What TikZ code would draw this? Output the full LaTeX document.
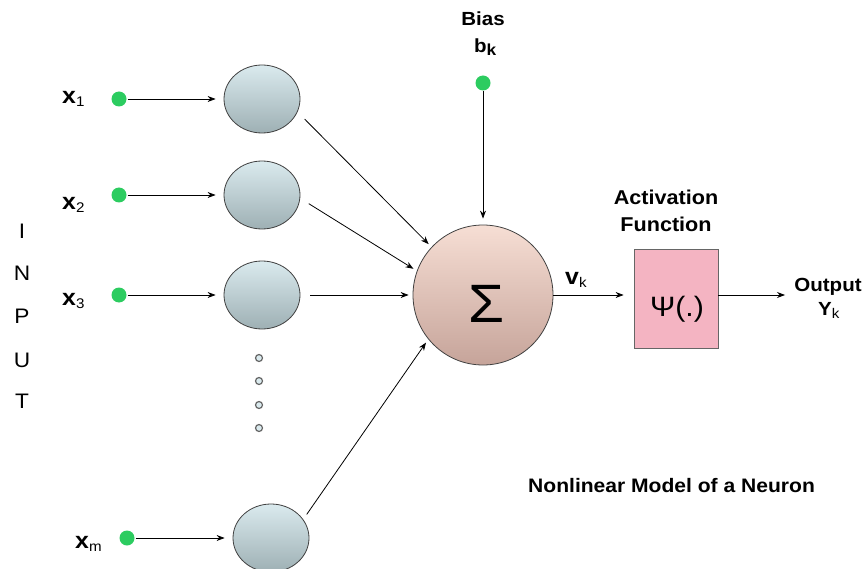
\documentclass[tikz,border=0pt]{standalone}
\usepackage{fontspec}
\setmainfont{Liberation Sans}[FakeStretch=1.08]
\setsansfont{Liberation Sans}[FakeStretch=1.08]
\usetikzlibrary{arrows.meta,calc,shapes.geometric}
\definecolor{dotgreen}{RGB}{44,204,96}
\definecolor{celltop}{RGB}{218,234,238}
\definecolor{cellbot}{RGB}{158,176,180}
\definecolor{sumtop}{RGB}{246,222,212}
\definecolor{sumbot}{RGB}{198,164,154}
\definecolor{actpink}{RGB}{244,180,194}
\newcommand\lsub[2][14]{\raisebox{-3pt}{\fontsize{#1}{#1}\selectfont#2}}
\tikzset{sig/.style={-{Stealth[length=8pt,width=6pt]}, line width=0.8pt},
  indot/.style={circle, fill=dotgreen, inner sep=0pt, minimum size=15pt},
  cell/.style={ellipse, draw=black!75, line width=0.8pt, top color=celltop, bottom color=cellbot,
    minimum width=76pt, minimum height=68pt, inner sep=0pt},
  sumn/.style={circle, draw=black!75, line width=0.8pt, top color=sumtop, bottom color=sumbot,
    minimum size=140pt, inner sep=0pt},
  actbox/.style={draw=black!60, line width=0.8pt, fill=actpink, minimum width=84pt, minimum height=99pt},
  vdot/.style={circle, draw=black!60, line width=1.2pt, fill=celltop, minimum size=7pt, inner sep=0pt},
  lbl/.style={font=\sffamily\fontsize{20}{24}\selectfont\bfseries, inner sep=0pt},
  xlbl/.style={font=\sffamily\fontsize{23}{26}\selectfont\bfseries, inner sep=0pt, anchor=base west},
  ltr/.style={font=\sffamily\fontsize{21}{24}\selectfont, inner sep=0pt, anchor=base}}

\begin{document}
\begin{tikzpicture}[x=1pt, y=-1pt, font=\sffamily]
  \useasboundingbox (0,0) rectangle (866,569);
  % inputs
  \node[indot] (d1) at (119,99) {};
  \node[indot] (d2) at (119,195) {};
  \node[indot] (d3) at (119,295) {};
  \node[indot] (dm) at (127,538) {};
  \node[xlbl] (x1) at (62,104) {x\lsub{\mdseries 1}};
  \node[xlbl] (x2) at (62,210) {x\lsub{\mdseries 2}};
  \node[xlbl] (x3) at (62,305) {x\lsub{\mdseries 3}};
  \node[xlbl] (xm) at (75,548) {x\lsub{\mdseries m}};
  \node[cell] (c1) at (262,99) {};
  \node[cell] (c2) at (262,195) {};
  \node[cell] (c3) at (262,295) {};
  \node[cell] (cm) at (271,538) {};
  \foreach \i/\y in {1/358,2/381,3/405,4/428}
    \node[vdot] (v\i) at (259,\y) {};
  \foreach \i in {1,2,3,m}
    \draw[sig, shorten <=1pt, shorten >=8pt] (d\i) -- (c\i);
  % INPUT letters
  \foreach \l/\y [count=\k] in {I/238,N/280,P/323,U/367,T/408}
    \node[ltr] (in\k) at (22,\y) {\l};
  % summing junction
  \node[sumn] (sum) at (483,295) {};
  \node[inner sep=0pt, font=\sffamily\fontsize{54}{54}\selectfont] (sig) at (487,304) {Σ};
  \draw[sig, shorten <=10pt, shorten >=4pt] (c1.-20) -- (sum.137);
  \draw[sig, shorten <=10pt, shorten >=4pt] (c2.-5) -- (sum.160);
  \draw[sig, shorten <=10pt, shorten >=4pt] (c3) -- (sum);
  \draw[sig, shorten <=6pt, shorten >=4pt] (cm.30) -- (sum.219);
  % bias
  \node[indot] (bd) at (483,83) {};
  \node[lbl, anchor=base, font=\sffamily\fontsize{19}{22}\selectfont\bfseries] (bias) at (483,26) {Bias};
  \node[lbl, anchor=base west, font=\sffamily\fontsize{19}{22}\selectfont\bfseries] (bk) at (474,53) {b\lsub[16]{k}};
  \draw[sig, shorten >=6pt] (bd) -- (sum);
  % activation
  \node[actbox] (act) at (676,299) {};
  \node[inner sep=0pt, font=\sffamily\fontsize{28}{30}\selectfont] (psi) at (677,309) {Ψ(.)};
  \node[lbl, anchor=base] (actl) at (666,205) {Activation};
  \node[lbl, anchor=base] (fun) at (666,232) {Function};
  \node[xlbl] (vk) at (565,284) {v\lsub{\mdseries k}};
  \draw[sig, shorten >=10pt] (sum.east) -- (sum.east -| act.west);
  % output
  \coordinate (out) at (785,295);
  \draw[sig] (act.east |- out) -- (out);
  \node[lbl, anchor=base, font=\sffamily\fontsize{19}{22}\selectfont\bfseries] (outl) at (828,291) {Output};
  \node[lbl, anchor=base west, font=\sffamily\fontsize{19}{22}\selectfont\bfseries] (yk) at (818,315) {Y\lsub{\mdseries k}};
  \node[lbl, anchor=base west, font=\sffamily\fontsize{19.5}{22}\selectfont\bfseries] (title) at (528,492) {Nonlinear Model of a Neuron};
\end{tikzpicture}
\end{document}
